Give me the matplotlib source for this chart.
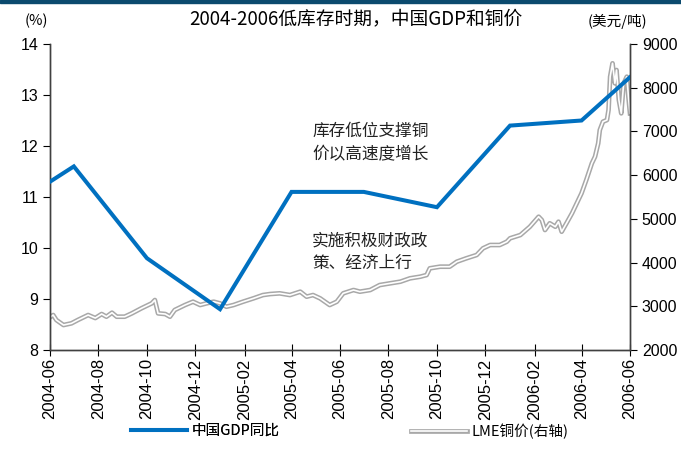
import matplotlib
matplotlib.use("Agg")
import matplotlib.pyplot as plt
import matplotlib.patheffects as pe
from matplotlib.patches import Rectangle
import pandas as pd

plt.rcParams['font.family'] = ['Noto Sans CJK SC', 'DejaVu Sans']

# ---- data ----
gdp_dates = ['2004-06-01', '2004-07-01', '2004-10-01', '2005-01-01', '2005-04-01',
             '2005-07-01', '2005-10-01', '2006-01-01', '2006-04-01', '2006-06-01']
gdp_values = [11.3, 11.6, 9.8, 8.8, 11.1, 11.1, 10.8, 12.4, 12.5, 13.35]

copper_dates = ['2004-06-01', '2004-06-05', '2004-06-09', '2004-06-18', '2004-06-28', '2004-07-06',
                '2004-07-19', '2004-07-28', '2004-08-05', '2004-08-11', '2004-08-18', '2004-08-24',
                '2004-09-03', '2004-09-12', '2004-09-24', '2004-10-07', '2004-10-11', '2004-10-15',
                '2004-10-24', '2004-10-30', '2004-11-05', '2004-11-18', '2004-11-28', '2004-12-07',
                '2004-12-15', '2004-12-24', '2005-01-01', '2005-01-09', '2005-01-18', '2005-01-30',
                '2005-02-12', '2005-02-24', '2005-03-05', '2005-03-17', '2005-03-30', '2005-04-12',
                '2005-04-20', '2005-04-28', '2005-05-07', '2005-05-19', '2005-05-28', '2005-06-05',
                '2005-06-18', '2005-06-26', '2005-07-09', '2005-07-21', '2005-08-03', '2005-08-16',
                '2005-08-28', '2005-09-10', '2005-09-18', '2005-09-22', '2005-10-05', '2005-10-17',
                '2005-10-26', '2005-11-07', '2005-11-20', '2005-11-28', '2005-12-07', '2005-12-19',
                '2005-12-28', '2006-01-01', '2006-01-14', '2006-01-26', '2006-02-06', '2006-02-10',
                '2006-02-14', '2006-02-20', '2006-02-27', '2006-03-03', '2006-03-07', '2006-03-13',
                '2006-03-20', '2006-03-26', '2006-04-01', '2006-04-07', '2006-04-14', '2006-04-18',
                '2006-04-22', '2006-04-24', '2006-04-28', '2006-05-03', '2006-05-05', '2006-05-07',
                '2006-05-10', '2006-05-13', '2006-05-15', '2006-05-18', '2006-05-21', '2006-05-24',
                '2006-05-28', '2006-05-30', '2006-06-01']
copper_values = [2750, 2800, 2686, 2571, 2610, 2686,
                 2800, 2731, 2823, 2762, 2853, 2762,
                 2762, 2838, 2953, 3067, 3143, 2838,
                 2823, 2762, 2915, 3029, 3105, 3029,
                 3067, 3105, 3067, 2990, 3029, 3105,
                 3181, 3257, 3280, 3296, 3257, 3334,
                 3220, 3257, 3181, 3029, 3105, 3296,
                 3372, 3334, 3372, 3486, 3525, 3563,
                 3639, 3677, 3715, 3868, 3906, 3906,
                 4020, 4097, 4173, 4326, 4402, 4402,
                 4478, 4555, 4630, 4820, 5049, 4973,
                 4745, 4898, 4820, 4935, 4706, 4898,
                 5127, 5356, 5585, 5890, 6271, 6423,
                 6729, 7033, 7223, 7261, 7490, 8252,
                 8558, 8100, 8405, 7719, 7414, 8100,
                 8252, 7795, 7414]

x_ticks = ['2004-06', '2004-08', '2004-10', '2004-12', '2005-02', '2005-04', '2005-06',
           '2005-08', '2005-10', '2005-12', '2006-02', '2006-04', '2006-06']
left_ticks = [8, 9, 10, 11, 12, 13, 14]
right_ticks = [2000, 3000, 4000, 5000, 6000, 7000, 8000, 9000]

title = '2004-2006低库存时期，中国GDP和铜价'
ann1 = '库存低位支撑铜\n价以高速度增长'
ann2 = '实施积极财政政\n策、经济上行'

# ---- figure ----
fig = plt.figure(figsize=(6.81, 4.55), dpi=100)
fig.patches.append(Rectangle((0, 0.993), 1, 0.007, transform=fig.transFigure,
                             color='#0b4a6e', zorder=10))
ax = fig.add_axes([50/681, 1-350/455, 580/681, 306/455])
ax2 = ax.twinx()

gd = pd.to_datetime(gdp_dates)
cd = pd.to_datetime(copper_dates)

ax2.plot(cd, copper_values, color='white', lw=1.2, zorder=2,
         path_effects=[pe.Stroke(linewidth=3.4, foreground='#a8a8a8'), pe.Normal()],
         label='LME铜价(右轴)')
ax.plot(gd, gdp_values, color='#0070c0', lw=2.9, zorder=3, label='中国GDP同比',
        solid_joinstyle='miter')
ax.set_zorder(ax2.get_zorder() + 1)
ax.patch.set_visible(False)

xmin, xmax = pd.Timestamp('2004-06-01'), pd.Timestamp('2006-06-01')
ax.set_xlim(xmin, xmax)
ax.set_ylim(8, 14)
ax2.set_ylim(2000, 9000)
ax.set_yticks(left_ticks)
ax2.set_yticks(right_ticks)

tick_font = ['Liberation Sans Narrow', 'Liberation Sans', 'DejaVu Sans']
ax.set_xticks(pd.to_datetime(x_ticks))
ax.set_xticklabels(x_ticks, rotation=90, fontsize=12, family=tick_font)
ax.set_yticklabels([str(v) for v in left_ticks], fontsize=11.5, family=tick_font)
ax2.set_yticklabels([str(v) for v in right_ticks], fontsize=11.5, family=tick_font)

for a in (ax, ax2):
    a.spines['top'].set_visible(False)
    for s in ('left', 'right', 'bottom'):
        a.spines[s].set_color('#404040')
        a.spines[s].set_linewidth(1.0)
    a.tick_params(direction='out', length=5, width=0.8, colors='black')
ax.tick_params(axis='x', direction='inout', length=8, pad=2)

fig.text(312/681, 1-143/455, ann1, fontsize=12, va='center', ha='left', linespacing=1.45,
         color='#222222')
fig.text(312/681, 1-252/455, ann2, fontsize=12, va='center', ha='left', linespacing=1.45,
         color='#222222')

fig.text(356/681, 1-19/455, title, fontsize=13.5, ha='center', va='center')
fig.text(36/681, 1-21/455, '(%)', fontsize=10.5, ha='center', va='center')
fig.text(617/681, 1-21/455, '(美元/吨)', fontsize=10.5, ha='center', va='center')

h1, l1 = ax.get_legend_handles_labels()
h2, l2 = ax2.get_legend_handles_labels()
leg1 = fig.legend(h1, l1, loc='center left', bbox_to_anchor=(118/681, 1-431/455),
                  frameon=False, fontsize=10.5, handlelength=3.8, handletextpad=0.35)
fig.add_artist(leg1)
fig.legend(h2, l2, loc='center left', bbox_to_anchor=(398/681, 1-431/455),
           frameon=False, fontsize=10.5, handlelength=3.8, handletextpad=0.35)

fig.savefig('out.png', dpi=100)
